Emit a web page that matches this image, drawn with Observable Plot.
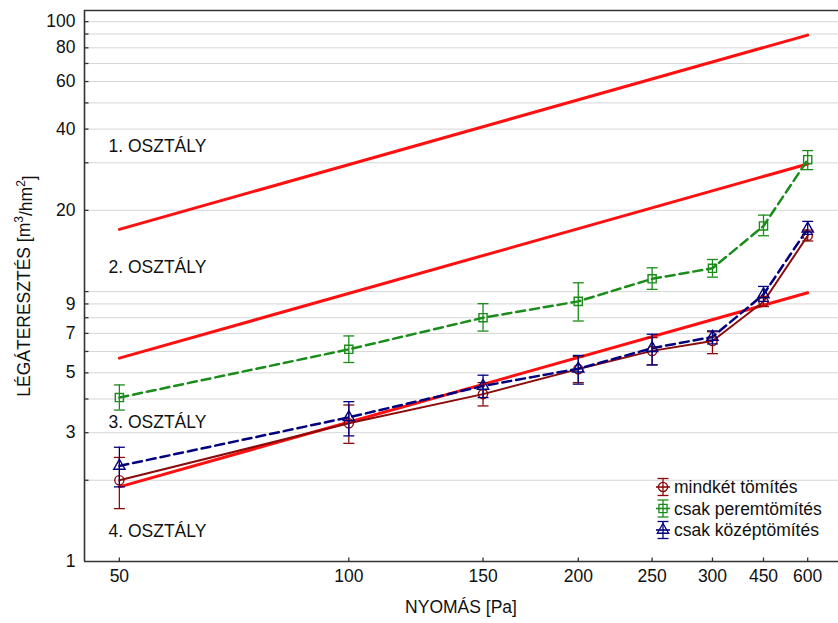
<!DOCTYPE html>
<html><head><meta charset="utf-8">
<script src="https://cdn.jsdelivr.net/npm/d3@7"></script>
<script src="https://cdn.jsdelivr.net/npm/@observablehq/plot@0.6"></script>
<style>
body{margin:0;background:#fff}
#chart{position:relative;width:838px;height:623px}
svg{font-family:"Liberation Sans",Arial,sans-serif}
</style>
</head><body><div id="chart"></div>
<script>
// ---- data ----
const pressures = [50, 100, 150, 200, 250, 300, 450, 600];

const mindketVal = [2.00, 3.25, 4.17, 5.16, 6.03, 6.56, 9.17, 16.1];
const mindketLo  = [1.57, 2.74, 3.77, 4.60, 5.35, 5.89, 8.80, 15.4];
const mindketHi  = [2.43, 3.80, 4.60, 5.75, 6.75, 7.10, 9.60, 16.9];

const peremVal = [4.05, 6.11, 8.00, 9.20, 11.15, 12.2, 17.5, 30.8];
const peremLo  = [3.64, 5.46, 7.14, 7.78, 10.19, 11.31, 16.1, 28.3];
const peremHi  = [4.51, 6.85, 9.02, 10.78, 12.25, 13.15, 19.2, 33.3];

const kozepVal = [2.26, 3.42, 4.47, 5.18, 6.17, 6.79, 9.76, 17.1];
const kozepLo  = [1.89, 2.92, 4.05, 4.54, 5.35, 6.40, 9.20, 16.3];
const kozepHi  = [2.65, 3.91, 4.90, 5.80, 6.95, 7.15, 10.45, 18.2];

const classEnds = [50, 600];
const class12 = [17.0, 89.2];
const class23 = [5.67, 29.7];
const class34 = [1.89, 9.9];

const classLabels = ["1. OSZTÁLY", "2. OSZTÁLY", "3. OSZTÁLY", "4. OSZTÁLY"];
const classLabelY = [34.5, 12.3, 3.27, 1.29];

const yTickLabels = [1, 3, 5, 7, 9, 20, 40, 60, 80, 100];
const yGrid = [2, 3, 4, 5, 6, 7, 8, 9, 10, 20, 30, 40, 50, 60, 70, 80, 90, 100];

const seriesNames = ["mindkét tömítés", "csak peremtömítés", "csak középtömítés"];

// the original axis is compressed at its right end: 450 and 600 sit where 350 and 400 would
const axisShift = new Map([[450, 350], [600, 400]]);

// ---- build ----
const series = [
  {name: seriesNames[0], val: mindketVal, lo: mindketLo, hi: mindketHi, color: "#8b0a0a", symbol: "circle", r: 4.6, dash: null, width: 2},
  {name: seriesNames[1], val: peremVal, lo: peremLo, hi: peremHi, color: "#1a8c1a", symbol: "square", r: 4.6, dash: "9,5", width: 2.5},
  {name: seriesNames[2], val: kozepVal, lo: kozepLo, hi: kozepHi, color: "#00007f", symbol: "triangle", r: 4.2, dash: "9,5", width: 2.5}
];
series.forEach(s => s.rows = pressures.map((p, i) => ({p, v: s.val[i], lo: s.lo[i], hi: s.hi[i]})));

const classLines = [class12, class23, class34].map(v => classEnds.map((p, i) => ({p, v: v[i]})));

const capSymbol = {draw(ctx) { ctx.moveTo(-5.5, 0); ctx.lineTo(5.5, 0); }};
const xTickSymbol = {draw(ctx) { ctx.moveTo(0, 0); ctx.lineTo(0, -4); }};
const yTickSymbol = {draw(ctx) { ctx.moveTo(0, 0); ctx.lineTo(4, 0); }};

const marks = [
  Plot.ruleY(yGrid, {stroke: "#d6d6d6", strokeWidth: 1}),
  ...classLines.map(d => Plot.line(d, {x: "p", y: "v", stroke: "#ff1010", strokeWidth: 3})),
];
for (const s of series) {
  marks.push(Plot.line(s.rows, {x: "p", y: "v", stroke: s.color, strokeWidth: s.width, strokeDasharray: s.dash}));
}
for (const s of series) {
  marks.push(
    Plot.ruleX(s.rows, {x: "p", y1: "lo", y2: "hi", stroke: s.color, strokeWidth: 1.3}),
    Plot.dot(s.rows, {x: "p", y: "lo", symbol: capSymbol, stroke: s.color, strokeWidth: 1.3, fill: "none"}),
    Plot.dot(s.rows, {x: "p", y: "hi", symbol: capSymbol, stroke: s.color, strokeWidth: 1.3, fill: "none"}),
    Plot.dot(s.rows, {x: "p", y: "v", symbol: s.symbol, r: s.r, stroke: s.color, strokeWidth: 1.4, fill: "none"})
  );
}
marks.push(
  // axes frame lines
  Plot.ruleY([1], {stroke: "#333", strokeWidth: 1.6}),
  Plot.ruleY([110], {stroke: "#333", strokeWidth: 1.6}),
  Plot.ruleX([45], {stroke: "#333", strokeWidth: 1.6}),
  // ticks (inward)
  Plot.dot(pressures, {x: d => d, frameAnchor: "bottom", symbol: xTickSymbol, stroke: "#333", strokeWidth: 1.3, fill: "none"}),
  Plot.dot(yGrid, {y: d => d, frameAnchor: "left", symbol: yTickSymbol, stroke: "#333", strokeWidth: 1.3, fill: "none"}),
  // tick labels
  Plot.text(pressures, {x: d => d, text: d => String(d), frameAnchor: "bottom", dy: 20, fontSize: 17.5, fill: "#111"}),
  Plot.text(yTickLabels, {y: d => d, text: d => String(d), frameAnchor: "left", textAnchor: "end", dx: -9, fontSize: 17.5, fill: "#111"}),
  // class labels
  Plot.text(classLabels, {y: (d, i) => classLabelY[i], text: d => d, frameAnchor: "left", textAnchor: "start", dx: 24, fontSize: 17.5, fill: "#111"})
);

const plot = Plot.plot({
  width: 838,
  height: 623,
  marginTop: 10,
  marginBottom: 62,
  marginLeft: 84,
  marginRight: 0,
  style: {fontFamily: "'Liberation Sans', Arial, sans-serif", background: "#fff"},
  x: {type: "log", domain: [45, 439], transform: p => axisShift.get(p) ?? p, axis: null},
  y: {type: "log", domain: [1, 110], axis: null},
  marks
});

document.getElementById("chart").appendChild(plot);

// axis titles and legend
const svg = d3.select(plot);
svg.append("text")
  .attr("x", 461).attr("y", 607)
  .attr("text-anchor", "middle").attr("dominant-baseline", "central")
  .attr("font-size", 17.5).attr("fill", "#111")
  .text("NYOMÁS [Pa]");

const yl = svg.append("text")
  .attr("transform", "translate(24,286) rotate(-90)")
  .attr("text-anchor", "middle").attr("dominant-baseline", "central")
  .attr("font-size", 17.5).attr("fill", "#111");
yl.append("tspan").text("LÉGÁTERESZTÉS [m");
yl.append("tspan").attr("dy", "-0.45em").attr("font-size", 12).text("3");
yl.append("tspan").attr("dy", "0.45em").text("/hm");
yl.append("tspan").attr("dy", "-0.45em").attr("font-size", 12).text("2");
yl.append("tspan").attr("dy", "0.45em").text("]");

const symMap = {circle: d3.symbolCircle, square: d3.symbolSquare, triangle: d3.symbolTriangle};
series.forEach((s, i) => {
  const cy = 487 + i * 21.5, cx = 663;
  const g = svg.append("g").attr("stroke", s.color).attr("fill", "none").attr("stroke-width", 1.3);
  g.append("line").attr("x1", cx).attr("x2", cx).attr("y1", cy - 8.5).attr("y2", cy + 8.5);
  g.append("line").attr("x1", cx - 5.5).attr("x2", cx + 5.5).attr("y1", cy - 8.5).attr("y2", cy - 8.5);
  g.append("line").attr("x1", cx - 5.5).attr("x2", cx + 5.5).attr("y1", cy + 8.5).attr("y2", cy + 8.5);
  g.append("line").attr("x1", cx - 7).attr("x2", cx + 7).attr("y1", cy).attr("y2", cy).attr("stroke-width", 1.6);
  g.append("path").attr("transform", `translate(${cx},${cy})`)
    .attr("d", d3.symbol(symMap[s.symbol], Math.PI * s.r * s.r)());
  svg.append("text").attr("x", 674).attr("y", cy)
    .attr("text-anchor", "start")
    .attr("dominant-baseline", "central").attr("font-size", 17.5).attr("fill", "#111")
    .text(s.name);
});
</script>
</body></html>
